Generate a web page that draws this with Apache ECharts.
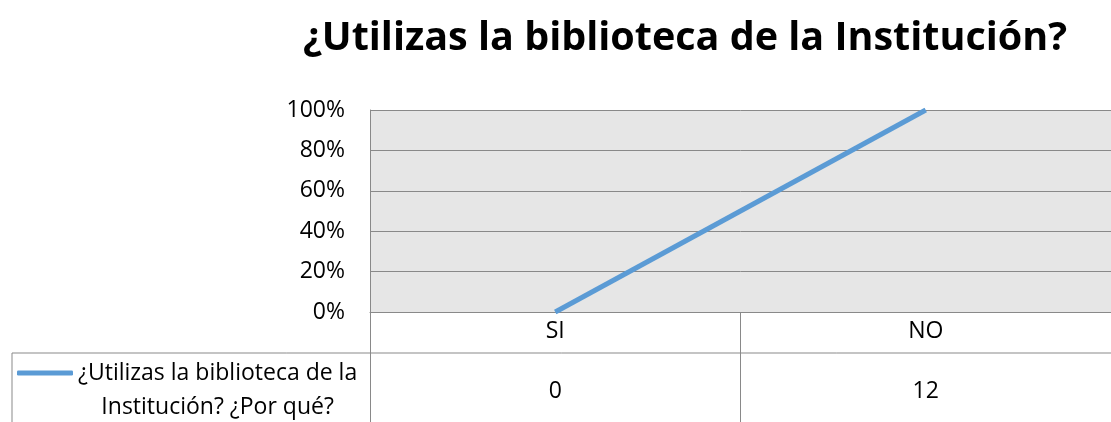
<!DOCTYPE html>
<html lang="es">
<head>
	<meta charset="UTF-8">
	<title>Biblioteca</title>
	<style>
		*{margin: 0; padding: 0; overflow: hidden; box-sizing: border-box;}
		body{background-color: #fff;}
		#view{width: 1111px; height: 422px;}
	</style>
</head>
<body>
	<div id="view"></div>
	<script src="https://cdn.jsdelivr.net/npm/echarts@6/dist/echarts.min.js"></script>
	<script>
	const titleText = '¿Utilizas la biblioteca de la Institución?';
	const categories = ['SI', 'NO'];
	const legendLines = ['¿Utilizas la biblioteca de la', 'Institución? ¿Por qué?'];
	const counts = [0, 12];
	const yTicks = [0, 20, 40, 60, 80, 100];

	const seriesName = legendLines.join(' ');
	// 100% apilado: cada punto sobre el total de su categoría (una sola serie)
	const pct = counts.map(function (v) { return v === 0 ? 0 : v / v * 100; });

	const font = '"Open Sans", sans-serif';
	const gray = '#898989';

	let option = {
		animation: false,
		title: {
			text: titleText,
			left: 680,
			textAlign: 'center',
			top: 14,
			textStyle: {fontFamily: font, fontSize: 39.5, fontWeight: 'bold', color: '#000'}
		},
		legend: {
			data: [seriesName],
			selectedMode: false,
			left: 12,
			top: 317,
			icon: 'roundRect',
			itemWidth: 56,
			itemHeight: 5,
			formatter: function () {
				return legendLines.map(function (l) { return '{a|' + l + '}'; }).join('\n');
			},
			textStyle: {
				fontFamily: font, fontSize: 23, color: '#000', lineHeight: 34,
				padding: [34, 0, 0, 0],
				rich: {a: {align: 'center', fontFamily: font, fontSize: 23, color: '#000', lineHeight: 34}}
			}
		},
		grid: [
			{left: 370, right: 0, top: 110, height: 202, show: true, backgroundColor: '#e6e6e6', borderWidth: 0},
			{left: 370, right: -2, top: 312, bottom: -200}
		],
		xAxis: [
			{
				type: 'category', gridIndex: 0, data: categories,
				axisLine: {lineStyle: {color: gray, width: 1}},
				axisTick: {show: false},
				axisLabel: {margin: 8, fontFamily: font, fontSize: 23, color: '#000'},
				splitLine: {show: false}
			},
			{
				type: 'category', gridIndex: 1, position: 'top',
				data: counts.map(String),
				axisLine: {show: false},
				axisTick: {show: false},
				axisLabel: {inside: true, margin: 68, fontFamily: font, fontSize: 23, color: '#000'},
				splitLine: {show: true, lineStyle: {color: gray, width: 1}}
			}
		],
		yAxis: [
			{
				type: 'value', gridIndex: 0, min: yTicks[0], max: yTicks[yTicks.length - 1], interval: 20,
				axisLine: {show: true, lineStyle: {color: gray}},
				axisTick: {show: false},
				axisLabel: {margin: 25, formatter: '{value}%', fontFamily: font, fontSize: 23, color: '#000'},
				splitLine: {lineStyle: {color: gray, width: 1}}
			},
			{type: 'value', gridIndex: 1, show: false}
		],
		graphic: [
			{type: 'line', shape: {x1: 12, y1: 353, x2: 1111, y2: 353}, style: {stroke: gray, lineWidth: 1}},
			{type: 'line', shape: {x1: 12, y1: 353, x2: 12, y2: 422}, style: {stroke: gray, lineWidth: 1}}
		],
		series: [{
			name: seriesName,
			type: 'line',
			xAxisIndex: 0,
			yAxisIndex: 0,
			data: pct,
			symbol: 'none',
			lineStyle: {color: '#5b9bd5', width: 5},
			itemStyle: {color: '#5b9bd5'}
		}]
	};

	var myChart = echarts.init(document.getElementById('view'));
	myChart.setOption(option);
	</script>
</body>
</html>
